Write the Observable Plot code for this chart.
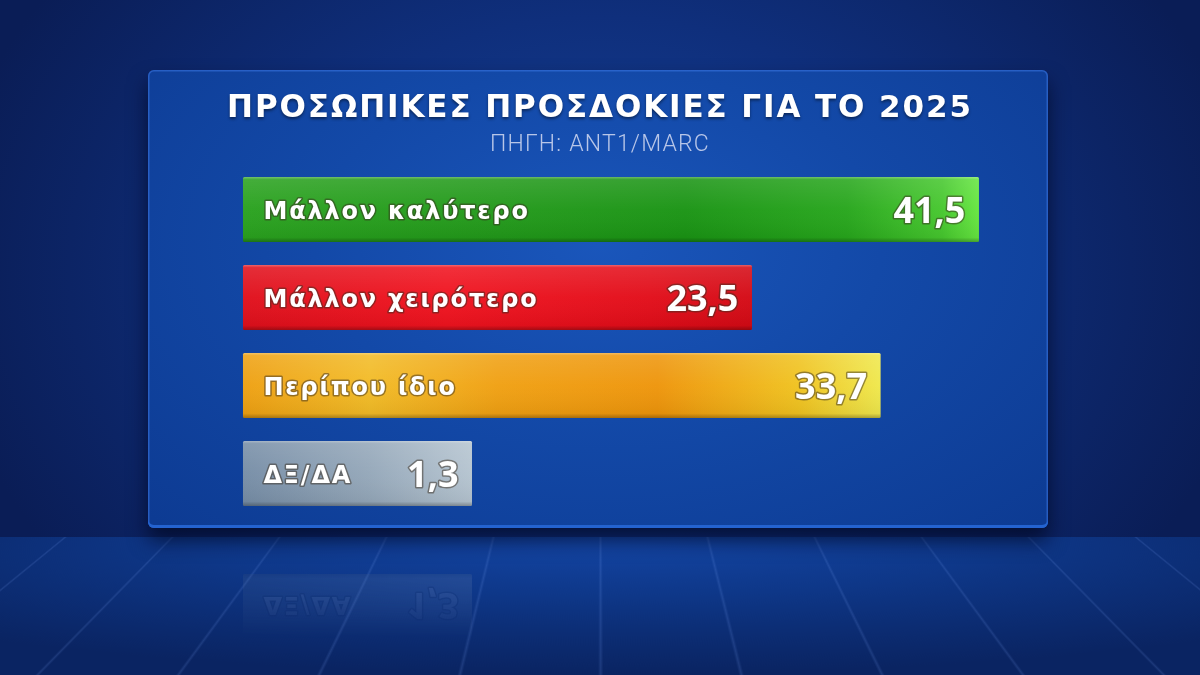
<!DOCTYPE html>
<html><head><meta charset="utf-8">
<script src="https://cdn.jsdelivr.net/npm/d3@7"></script>
<script src="https://cdn.jsdelivr.net/npm/@observablehq/plot@0.6"></script>
<style>
html,body{margin:0;padding:0;width:1200px;height:675px;overflow:hidden;background:#0a1d56;}
#stage{position:relative;width:1200px;height:675px;overflow:hidden;
  background: radial-gradient(ellipse 55% 75% at 50% 40%, #164299 0%, #0f2f7c 50%, #0a1d56 100%);}
#floor{position:absolute;left:-300px;width:1800px;top:537px;height:340px;transform-origin:50% 0;
  transform:perspective(1200px) rotateX(70deg);
  background-image: linear-gradient(90deg, transparent 53px, rgba(130,170,255,.15) 53px, rgba(130,170,255,.15) 54.5px, transparent 54.5px),
    radial-gradient(ellipse 45% 90% at 50% 0%, #1447a8 0%, #0e3788 50%, #0a2462 100%);
  background-size:107px 100%, 100% 100%;
  background-position:50% 0, 0 0;}
#panel{position:absolute;left:148px;top:70px;width:900px;height:458px;border-radius:6px;
  background: radial-gradient(ellipse 70% 85% at 50% 38%, #1a56bb 0%, #1349a8 45%, #0d3b93 100%);
  box-shadow: 0 12px 20px rgba(0,5,30,.7), inset 0 -3px 0 #2463d0, inset 0 0 0 1.5px rgba(60,120,230,.55);}
#title{position:absolute;top:88px;left:0;width:1200px;text-align:center;color:#fff;
  font:700 31px "DejaVu Sans", sans-serif;letter-spacing:1.9px;text-shadow:0 2px 3px rgba(0,0,0,.45);}
#subtitle{position:absolute;top:130px;left:0;width:1200px;text-align:center;color:#b8c6e8;
  font:300 23px Roboto, "Noto Sans", sans-serif;letter-spacing:1.2px;}
#chart{position:absolute;left:0;top:0;}
#reflect{position:absolute;left:0;top:0;width:1200px;height:675px;transform:scaleY(-1);transform-origin:50% 540px;
  opacity:.15;
  -webkit-mask-image:linear-gradient(to bottom, transparent 0px, transparent 440px, rgba(0,0,0,.6) 480px, #000 515px, #000 540px, transparent 541px);
  mask-image:linear-gradient(to bottom, transparent 0px, transparent 440px, rgba(0,0,0,.6) 480px, #000 515px, #000 540px, transparent 541px);}
</style></head>
<body>
<div id="stage">
  <div id="floor"></div>
  <div id="panel"></div>
  <div id="reflect"></div>
  <div id="chart"></div>
  <div id="title"></div>
  <div id="subtitle"></div>
</div>
<script>
// ---- data ----
const titleText = "ΠΡΟΣΩΠΙΚΕΣ ΠΡΟΣΔΟΚΙΕΣ ΓΙΑ ΤΟ 2025";
const sourceText = "ΠΗΓΗ: ANT1/MARC";
const categories = ["Μάλλον καλύτερο", "Μάλλον χειρότερο", "Περίπου ίδιο", "ΔΞ/ΔΑ"];
const values = [41.5, 23.5, 33.7, 1.3];
const valueLabels = ["41,5", "23,5", "33,7", "1,3"];

// ---- styles ----
const gradientStops = [
  [[0,"#2aa21f"],[0.35,"#22991a"],[0.6,"#1a9414"],[0.82,"#27a61c"],[0.95,"#46c72e"],[1,"#66e640"]],
  [[0,"#e0101c"],[0.4,"#f0131f"],[0.8,"#e20d19"],[1,"#d40a15"]],
  [[0,"#eea012"],[0.2,"#f2bb26"],[0.4,"#f0a012"],[0.65,"#ee950b"],[0.87,"#f0c21f"],[1,"#efe84c"]],
  [[0,"#768da6"],[0.55,"#94a7b9"],[1,"#b5c4d0"]]
];
const LABEL_ROOM = -16.86; // room (in value units) left of zero reserved for the category label

document.getElementById("title").textContent = titleText;
document.getElementById("subtitle").textContent = sourceText;

const data = categories.map((c, i) => ({category: c, value: values[i], label: valueLabels[i], fill: `url(#barGrad${i})`}));

function makeChart(rows) {
  const svg = Plot.plot({
    width: 1200, height: 675,
    marginTop: 175, marginBottom: 167, marginLeft: 0, marginRight: 0,
    x: {domain: [0, 50], range: [455.6, 455.6 + 50 * 12.611], axis: null},
    y: {domain: categories, axis: null, paddingInner: 0.256, paddingOuter: 0},
    color: {type: "identity"},
    style: {background: "transparent", overflow: "visible"},
    marks: [
      Plot.barX(rows, {y: "category", x1: LABEL_ROOM, x2: "value", fill: "fill", rx: 1.5}),
      Plot.barX(rows, {y: "category", x1: LABEL_ROOM, x2: "value", fill: "url(#gloss)", rx: 1.5}),
      Plot.text(rows, {y: "category", x: LABEL_ROOM, text: "category", textAnchor: "start", dx: 20, dy: 1,
        fill: "white", fontSize: 24, fontWeight: 700, fontFamily: "'DejaVu Sans', sans-serif",
        stroke: "#3a2e20", strokeWidth: 3, strokeOpacity: 0.5}),
      Plot.text(rows, {y: "category", x: "value", text: "label", textAnchor: "end", dx: -14, dy: 1,
        fill: "white", fontSize: 36, fontWeight: 700, fontFamily: "'Noto Sans', sans-serif",
        stroke: "#3a2e20", strokeWidth: 3, strokeOpacity: 0.5})
    ]
  });
  d3.select(svg).selectAll("g[aria-label=text]").filter((d, i) => i === 0).selectAll("text").style("letter-spacing", "1.8px");
  const defs = d3.select(svg).insert("defs", ":first-child");
  gradientStops.forEach((stops, i) => {
    const g = defs.append("linearGradient").attr("id", `barGrad${i}`).attr("x1", 0).attr("x2", 1).attr("y1", 0).attr("y2", 0);
    stops.forEach(([o, c]) => g.append("stop").attr("offset", o).attr("stop-color", c));
  });
  const gl = defs.append("linearGradient").attr("id", "gloss").attr("x1", 0).attr("x2", 0).attr("y1", 0).attr("y2", 1);
  [[0,"rgba(255,255,255,0.35)"],[0.04,"rgba(255,255,255,0.12)"],[0.5,"rgba(255,255,255,0.03)"],[0.93,"rgba(0,0,0,0.05)"],[1,"rgba(0,0,0,0.3)"]]
    .forEach(([o, c]) => gl.append("stop").attr("offset", o).attr("stop-color", c));
  return svg;
}

document.getElementById("chart").append(makeChart(data));
document.getElementById("reflect").append(makeChart(data.slice(-1)));
</script>
</body></html>
